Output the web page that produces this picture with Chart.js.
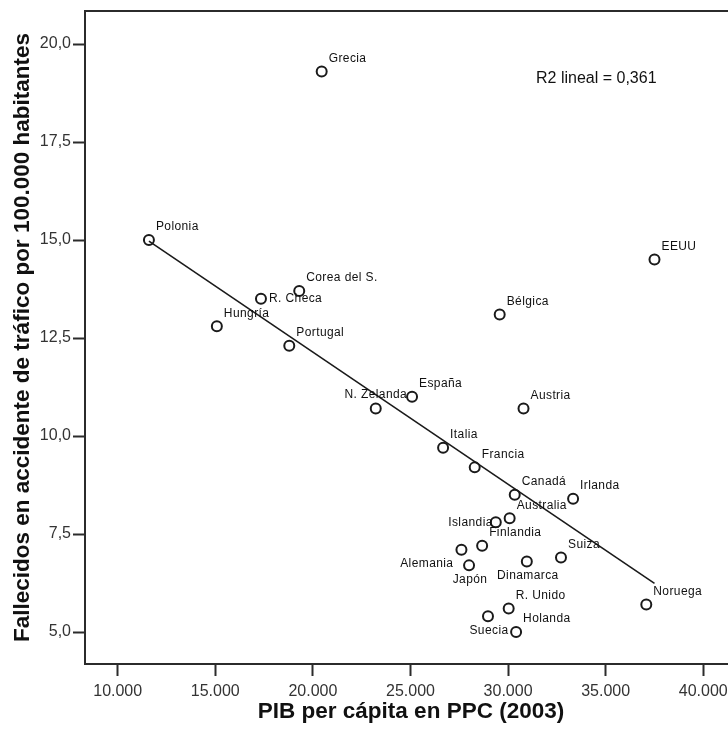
<!DOCTYPE html>
<html>
<head>
<meta charset="utf-8">
<script src="https://cdn.jsdelivr.net/npm/chart.js@4.4.1/dist/chart.umd.min.js"></script>
<style>
html,body{margin:0;padding:0;overflow:hidden;background:#fff;width:728px;height:729px}
#wrap{position:absolute;left:0;top:0;width:737px;height:729px}
</style>
</head>
<body>
<div id="wrap"><canvas id="c" width="737" height="729"></canvas></div>
<script>
// ---- data ----
const countries = ['Grecia','Polonia','Corea del S.','R. Checa','Hungría','Portugal','EEUU','Bélgica',
  'España','N. Zelanda','Austria','Italia','Francia','Canadá','Irlanda','Australia','Islandia',
  'Finlandia','Alemania','Japón','Dinamarca','Suiza','Noruega','R. Unido','Suecia','Holanda'];
const gdp = [20450,11600,19300,17340,15080,18790,37500,29570,
  25080,23220,30790,26670,28290,30340,33330,30080,29370,
  28670,27610,28000,30960,32710,37080,30030,28970,30410];
const deaths = [19.3,15.0,13.7,13.5,12.8,12.3,14.5,13.1,
  11.0,10.7,10.7,9.7,9.2,8.5,8.4,7.9,7.8,
  7.2,7.1,6.7,6.8,6.9,5.7,5.6,5.4,5.0];
const xTicks = [10000,15000,20000,25000,30000,35000,40000];
const yTicks = [5,7.5,10,12.5,15,17.5,20];
const xTitle = 'PIB per cápita en PPC (2003)';
const yTitle = 'Fallecidos en accidente de tráfico por 100.000 habitantes';
const r2Text = 'R2 lineal = 0,361';

// label placement around each marker (style only)
const labelPlace = {'R. Checa':'e','N. Zelanda':'n','Islandia':'w','Japón':'s','Dinamarca':'s','Suecia':'s','Alemania':'sw'};

// ---- least squares fit line (as SPSS draws it) ----
const n = gdp.length;
const mx = gdp.reduce((a,b)=>a+b,0)/n;
const my = deaths.reduce((a,b)=>a+b,0)/n;
let sxy=0, sxx=0;
for(let i=0;i<n;i++){ sxy+=(gdp[i]-mx)*(deaths[i]-my); sxx+=(gdp[i]-mx)*(gdp[i]-mx); }
const slope = sxy/sxx, icpt = my - slope*mx;
const xMinD = Math.min(...gdp), xMaxD = Math.max(...gdp);
const fitLine = [{x:xMinD,y:icpt+slope*xMinD},{x:xMaxD,y:icpt+slope*xMaxD}];

function fmtX(v){ return String(Math.round(v)).replace(/\B(?=(\d{3})+(?!\d))/g,'.'); }
function fmtY(v){ return v.toFixed(1).replace('.',','); }

const FONT = "'Liberation Sans', Arial, Helvetica, sans-serif";
Chart.defaults.font.family = FONT;

const framePlugin = {
  id:'frame',
  afterDraw(chart){
    const {ctx, chartArea:a} = chart;
    ctx.save();
    ctx.strokeStyle = '#2b2b2b';
    ctx.lineWidth = 2;
    ctx.strokeRect(a.left, a.top, a.right-a.left, a.bottom-a.top);
    ctx.restore();
  }
};

const labelPlugin = {
  id:'ptlabels',
  afterDatasetsDraw(chart){
    const ctx = chart.ctx;
    const meta = chart.getDatasetMeta(0);
    ctx.save();
    ctx.font = '12px ' + FONT;
    try{ ctx.letterSpacing = '0.4px'; }catch(e){}
    ctx.fillStyle = '#111';
    ctx.textBaseline = 'middle';
    meta.data.forEach((pt,i)=>{
      const name = countries[i];
      const p = labelPlace[name] || 'ne';
      let tx=pt.x, ty=pt.y, al='left';
      if(p==='ne'){ tx+=7; ty-=13; }
      else if(p==='e'){ tx+=8; }
      else if(p==='n'){ al='center'; ty-=14; }
      else if(p==='w'){ al='right'; tx-=3; }
      else if(p==='s'){ al='center'; tx+=1; ty+=14; }
      else if(p==='sw'){ al='right'; tx-=8; ty+=14; }
      ctx.textAlign = al;
      ctx.fillText(name, tx, ty);
    });
    ctx.restore();
    // R2 annotation
    ctx.save();
    ctx.font = '16px ' + FONT;
    ctx.fillStyle = '#111';
    ctx.textAlign = 'left';
    ctx.textBaseline = 'middle';
    ctx.fillText(r2Text, 536, 79);
    ctx.restore();
  }
};

new Chart(document.getElementById('c'), {
  type:'scatter',
  data:{
    datasets:[
      {
        label:'Países',
        data: gdp.map((x,i)=>({x:x, y:deaths[i]})),
        pointRadius:5, pointHoverRadius:5,
        pointBorderWidth:2,
        pointBorderColor:'#1a1a1a',
        pointBackgroundColor:'rgba(255,255,255,0)',
        order:2
      },
      {
        type:'line',
        label:'Lineal',
        data: fitLine,
        borderColor:'#1a1a1a',
        borderWidth:1.6,
        pointRadius:0,
        fill:false,
        tension:0,
        order:1
      }
    ]
  },
  options:{
    responsive:false,
    animation:false,
    devicePixelRatio:1,
    layout:{autoPadding:false, padding:{top:11,right:0,bottom:0,left:0}},
    plugins:{legend:{display:false}, tooltip:{enabled:false}},
    scales:{
      x:{
        type:'linear', min:8325, max:41727,
        afterBuildTicks:s=>{ s.ticks = xTicks.map(v=>({value:v})); },
        afterFit:s=>{ s.height = 65; s.paddingLeft = 0; s.paddingRight = 0; },
        grid:{drawOnChartArea:false, drawTicks:true, tickLength:12, tickWidth:2, tickColor:'#2b2b2b'},
        border:{display:false},
        ticks:{color:'#333', font:{size:16}, padding:6, maxRotation:0, autoSkip:false, callback:v=>fmtX(v)},
        title:{display:true, text:xTitle, color:'#111', font:{size:22.5, weight:'bold'}, padding:{top:0,bottom:4}}
      },
      y:{
        type:'linear', min:4.184, max:20.842,
        afterBuildTicks:s=>{ s.ticks = yTicks.map(v=>({value:v})); },
        afterFit:s=>{ s.width = 85; s.paddingTop = 0; s.paddingBottom = 0; },
        grid:{drawOnChartArea:false, drawTicks:true, tickLength:12, tickWidth:2, tickColor:'#2b2b2b'},
        border:{display:false},
        ticks:{color:'#333', font:{size:16}, padding:2, autoSkip:false, callback:v=>fmtY(v)},
        title:{display:true, text:yTitle, color:'#111', font:{size:22.5, weight:'bold'}, padding:{top:9,bottom:0}}
      }
    }
  },
  plugins:[framePlugin, labelPlugin]
});
</script>
</body>
</html>
